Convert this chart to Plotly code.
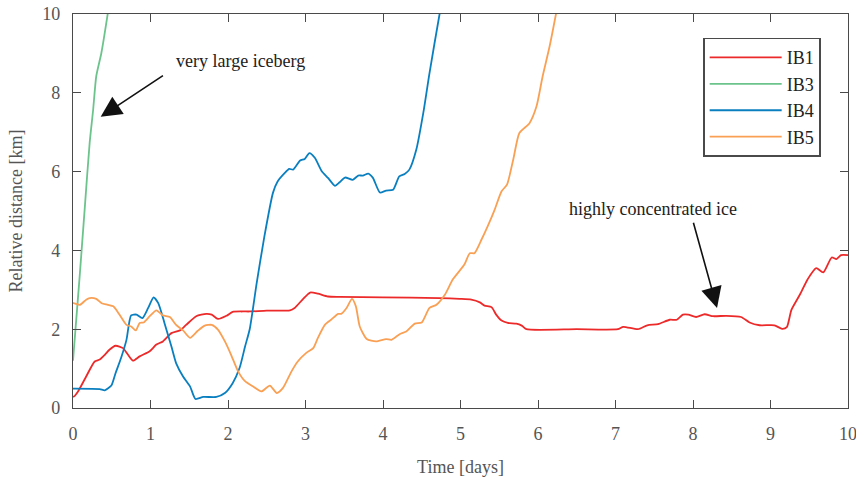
import plotly.graph_objects as go

# Relative distance between iceberg pairs over time
ib1_t = [0.0, 0.01, 0.065, 0.17, 0.28, 0.345, 0.41, 0.47, 0.55, 0.645, 0.71, 0.774, 0.86, 0.99,
         1.076, 1.16, 1.27, 1.38, 1.46, 1.59, 1.72, 1.79, 1.87, 1.98, 2.06, 2.19, 2.28, 2.5,
         2.80, 2.86, 2.97, 3.06, 3.16, 3.29, 3.44, 4.0, 4.73, 4.99, 5.14, 5.25, 5.31, 5.40,
         5.46, 5.53, 5.61, 5.72, 5.79, 5.85, 6.5, 7.03, 7.10, 7.29, 7.41, 7.55, 7.70, 7.79,
         7.87, 7.94, 8.04, 8.15, 8.26, 8.43, 8.62, 8.73, 8.86, 9.05, 9.15, 9.21, 9.27, 9.38,
         9.48, 9.59, 9.68, 9.79, 9.85, 9.91, 10.0]
ib1_d = [0.30, 0.29, 0.42, 0.80, 1.18, 1.23, 1.35, 1.48, 1.58, 1.52, 1.35, 1.20, 1.31, 1.44,
         1.61, 1.69, 1.90, 1.97, 2.11, 2.33, 2.39, 2.37, 2.26, 2.34, 2.44, 2.45, 2.45, 2.47,
         2.48, 2.54, 2.77, 2.93, 2.90, 2.83, 2.82, 2.81, 2.79, 2.77, 2.75, 2.68, 2.60, 2.56,
         2.37, 2.22, 2.16, 2.14, 2.09, 2.00, 2.00, 2.00, 2.06, 2.00, 2.10, 2.13, 2.24, 2.24,
         2.37, 2.37, 2.31, 2.38, 2.33, 2.34, 2.31, 2.17, 2.10, 2.10, 2.01, 2.05, 2.49, 2.88,
         3.27, 3.55, 3.44, 3.82, 3.78, 3.88, 3.88]

ib3_t = [0.0, 0.04, 0.086, 0.15, 0.215, 0.26, 0.30, 0.366, 0.44, 0.47]
ib3_d = [1.20, 2.20, 3.34, 5.03, 6.73, 7.57, 8.42, 9.01, 9.90, 10.3]

ib4_t = [0.0, 0.01, 0.345, 0.41, 0.495, 0.55, 0.62, 0.69, 0.75, 0.82, 0.895, 0.97, 1.04,
         1.10, 1.18, 1.27, 1.33, 1.42, 1.51, 1.58, 1.68, 1.85, 1.96, 2.06, 2.15, 2.22, 2.28,
         2.37, 2.47, 2.58, 2.64, 2.73, 2.79, 2.84, 2.93, 2.99, 3.05, 3.12, 3.21, 3.29, 3.38,
         3.44, 3.51, 3.61, 3.68, 3.74, 3.81, 3.87, 3.96, 4.04, 4.13, 4.21, 4.28, 4.34, 4.43,
         4.52, 4.60, 4.73, 4.76]
ib4_d = [0.49, 0.49, 0.48, 0.45, 0.57, 0.89, 1.27, 1.73, 2.35, 2.37, 2.28, 2.54, 2.81,
         2.66, 2.16, 1.56, 1.14, 0.80, 0.55, 0.23, 0.28, 0.28, 0.38, 0.63, 1.02, 1.56, 2.00,
         3.17, 4.36, 5.46, 5.75, 5.96, 6.07, 6.05, 6.28, 6.32, 6.47, 6.35, 6.01, 5.84, 5.64,
         5.73, 5.85, 5.79, 5.90, 5.90, 5.95, 5.84, 5.47, 5.52, 5.54, 5.88, 5.94, 6.05, 6.56,
         7.49, 8.50, 10.0, 10.3]

ib5_t = [0.0, 0.01, 0.09, 0.17, 0.215, 0.30, 0.37, 0.45, 0.52, 0.60, 0.69, 0.75, 0.81, 0.86,
         0.91, 0.99, 1.076, 1.16, 1.25, 1.33, 1.42, 1.51, 1.61, 1.70, 1.79, 1.87, 1.96, 2.04,
         2.13, 2.22, 2.32, 2.43, 2.54, 2.63, 2.71, 2.82, 2.90, 3.01, 3.10, 3.16, 3.25, 3.33,
         3.42, 3.46, 3.53, 3.60, 3.65, 3.70, 3.79, 3.91, 4.04, 4.11, 4.22, 4.30, 4.41, 4.50,
         4.60, 4.69, 4.80, 4.90, 5.05, 5.12, 5.18, 5.27, 5.35, 5.44, 5.53, 5.60, 5.68, 5.76,
         5.89, 5.98, 6.06, 6.15, 6.23, 6.26]
ib5_d = [2.66, 2.66, 2.62, 2.75, 2.79, 2.77, 2.66, 2.62, 2.58, 2.37, 2.11, 2.07, 1.97, 2.16,
         2.17, 2.33, 2.48, 2.35, 2.31, 2.11, 1.97, 1.78, 1.96, 2.09, 2.11, 1.99, 1.69, 1.35,
         0.93, 0.68, 0.55, 0.42, 0.57, 0.38, 0.51, 0.93, 1.18, 1.40, 1.52, 1.78, 2.11, 2.24,
         2.39, 2.39, 2.54, 2.77, 2.58, 2.07, 1.75, 1.69, 1.75, 1.73, 1.88, 1.94, 2.14, 2.17,
         2.54, 2.62, 2.88, 3.26, 3.64, 3.93, 3.93, 4.27, 4.61, 5.03, 5.50, 5.67, 6.30, 6.98,
         7.23, 7.65, 8.42, 9.18, 9.98, 10.3]

series = [
    ("IB1", ib1_t, ib1_d, "#ec2a2a"),
    ("IB3", ib3_t, ib3_d, "#6cc48c"),
    ("IB4", ib4_t, ib4_d, "#0a7fc0"),
    ("IB5", ib5_t, ib5_d, "#f9a055"),
]

x_ticks = [0, 1, 2, 3, 4, 5, 6, 7, 8, 9, 10]
y_ticks = [0, 2, 4, 6, 8, 10]

FONT = "Liberation Serif"
AXIS_COLOR = "#4a4a4a"

fig = go.Figure()
for name, t, d, color in series:
    fig.add_trace(go.Scatter(
        x=t, y=d, name=name, mode="lines",
        line=dict(color=color, width=1.8, shape="spline", smoothing=0.6),
    ))

axis_common = dict(
    showline=True, linecolor=AXIS_COLOR, linewidth=1.4, mirror="allticks",
    ticks="inside", ticklen=8, tickwidth=1.4, tickcolor=AXIS_COLOR,
    showgrid=False, zeroline=False, automargin=False, ticklabeloverflow="allow",
    tickfont=dict(family=FONT, size=18, color="#555555"),
    title_font=dict(family=FONT, size=18, color="#555555"),
)

fig.update_xaxes(range=[0, 10], tickvals=x_ticks, title_text="Time [days]",
                 ticklabelstandoff=9, title_standoff=20, **axis_common)
fig.update_yaxes(range=[0, 10], tickvals=y_ticks, title_text="Relative distance [km]",
                 ticklabelstandoff=8, title_standoff=14, **axis_common)

# Callouts
fig.add_annotation(x=0.357, y=7.39, ax=1.18, ay=8.46, axref="x", ayref="y",
                   xref="x", yref="y", text="", showarrow=True,
                   arrowhead=2, arrowsize=2.6, arrowwidth=1.6, arrowcolor="#111111")
fig.add_annotation(x=2.16, y=8.8, xref="x", yref="y", text="very large iceberg",
                   showarrow=False, font=dict(family=FONT, size=18, color="#222222"))
fig.add_annotation(x=8.31, y=2.54, ax=8.0, ay=4.74, axref="x", ayref="y",
                   xref="x", yref="y", text="", showarrow=True,
                   arrowhead=2, arrowsize=2.6, arrowwidth=1.6, arrowcolor="#111111")
fig.add_annotation(x=7.49, y=5.06, xref="x", yref="y", text="highly concentrated ice",
                   showarrow=False, font=dict(family=FONT, size=18, color="#222222"))

fig.update_layout(
    width=856, height=477,
    margin=dict(l=73, r=8, t=14, b=69),
    paper_bgcolor="white", plot_bgcolor="white",
    showlegend=True,
    legend=dict(
        x=0.813, y=0.94, xanchor="left", yanchor="top",
        bgcolor="white", bordercolor=AXIS_COLOR, borderwidth=1.6,
        font=dict(family=FONT, size=18, color="#222222"),
        tracegroupgap=0, itemwidth=72, entrywidth=40,
    ),
)

fig.write_html("out.html")
